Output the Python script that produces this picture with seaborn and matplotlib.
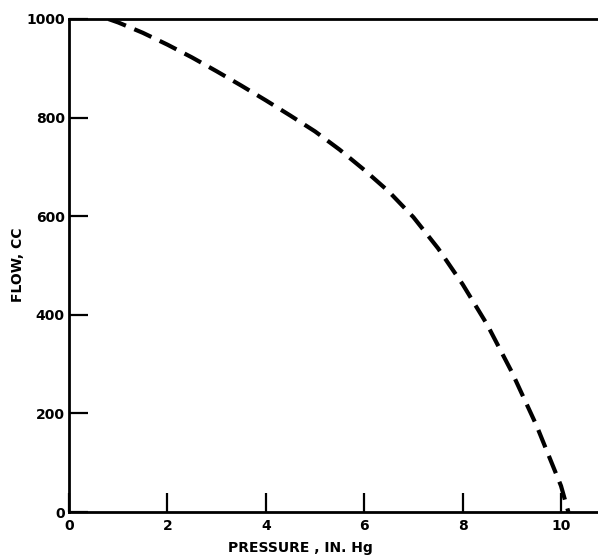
import matplotlib
matplotlib.use("Agg")
import matplotlib.pyplot as plt
import seaborn as sns
import pandas as pd

pressure = [0.8, 1.0, 1.5, 2.0, 2.5, 3.0, 3.5, 4.0, 4.5, 5.0, 5.5, 6.0, 6.5, 7.0, 7.5, 8.0, 8.5, 9.0, 9.5, 10.0, 10.15]
flow = [1000, 993, 972, 948, 922, 894, 865, 835, 804, 772, 735, 694, 650, 598, 535, 462, 380, 284, 176, 53, 0]
xticks = [0, 2, 4, 6, 8, 10]
yticks = [0, 200, 400, 600, 800, 1000]

sns.set_style("white")
plt.rcParams['font.family'] = ['DejaVu Sans']
plt.rcParams['text.color'] = 'black'
plt.rcParams['xtick.color'] = 'black'
plt.rcParams['ytick.color'] = 'black'
plt.rcParams['axes.labelcolor'] = 'black'

fig = plt.figure(figsize=(5.98, 5.56), dpi=100)
ax = fig.add_axes([69/598, 1 - 512/556, 1 - 69/598, (512 - 19)/556])

df = pd.DataFrame({"pressure": pressure, "flow": flow})
sns.lineplot(data=df, x="pressure", y="flow", ax=ax, color="black", lw=3.0,
             sort=False, estimator=None)
ax.lines[0].set_dashes([4.5, 2.2])

ax.set_xlim(0, (598 - 69) / 49.2)
ax.set_ylim(0, 1000)
ax.set_xticks(xticks)
ax.set_yticks(yticks)
ax.set_xticklabels([str(t) for t in xticks], fontsize=10, fontweight='bold')
ax.set_yticklabels([str(t) for t in yticks], fontsize=10, fontweight='bold')
ax.tick_params(axis='both', direction='in', length=14, width=1.6, color='black',
               bottom=True, left=True, top=False, right=False)
ax.tick_params(axis='x', pad=5)
ax.tick_params(axis='y', pad=3)

for s in ['left', 'bottom', 'top']:
    ax.spines[s].set_visible(True)
    ax.spines[s].set_color('black')
    ax.spines[s].set_linewidth(2)
ax.spines['right'].set_visible(False)

ax.set_xlabel("PRESSURE , IN. Hg", fontsize=10, fontweight='bold')
ax.xaxis.set_label_coords((300 - 69) / (598 - 69), -0.058)
ax.set_ylabel("FLOW, CC", fontsize=10, fontweight='bold')
ax.yaxis.set_label_coords(-(69 - 25) / (598 - 69), (512 - 265) / 493)

fig.savefig("out.png", dpi=100, facecolor='white')
